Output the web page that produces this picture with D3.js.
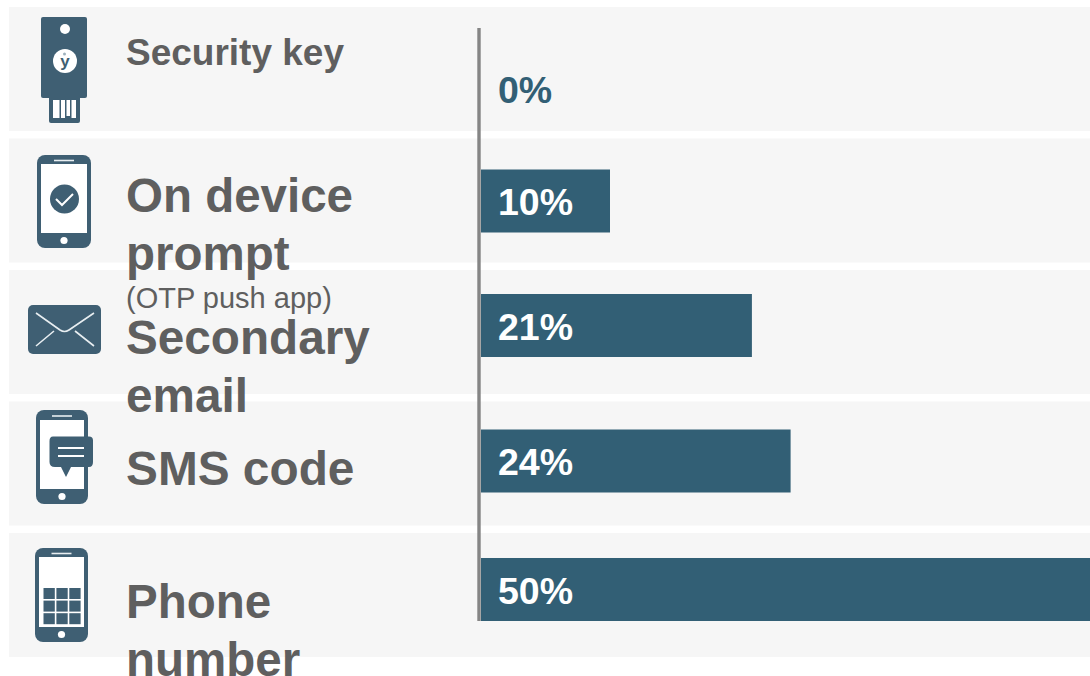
<!DOCTYPE html>
<html>
<head>
<meta charset="utf-8">
<title>Account recovery methods</title>
<script src="https://cdn.jsdelivr.net/npm/d3@7/dist/d3.min.js"></script>
<style>
  html, body { margin: 0; padding: 0; background: #fff; overflow: hidden; }
  svg { display: block; }
  text { font-family: "Liberation Sans", Arial, sans-serif; }
</style>
</head>
<body>
<svg id="chart" width="1090" height="676"></svg>
<script>
// Share of accounts per method
const categories = ["Security key", "On device prompt", "Secondary email", "SMS code", "Phone number"];
const values = [0, 10, 21, 24, 50];
const labelLines = [["Security key"], ["On device", "prompt"], ["Secondary", "email"], ["SMS code"], ["Phone", "number"]];

// Layout: where each bar sits inside its row, and first label baseline
const barOffsets = [50, 31, 24, 28, 25];
const labelBaselines = [65, 212, 354, 485, 618];
const labelSizes = [37, 47.5, 47.7, 47.8, 47.5];

const W = 1090, H = 676;
const BAND = "#f6f6f6", BAR = "#325f75", ICON = "#3f5f73", TEXT = "#5f5f5f", RULE = "#858585";

const svg = d3.select("#chart");

const y = d3.scaleBand().domain(categories).range([7, 657]).paddingInner(0.057);
// 50% runs past the right edge of the page
const x = d3.scaleLinear().domain([0, 50]).range([481, 1126]);
const barHeight = 63;

// Row backgrounds
svg.append("g").selectAll("rect").data(categories).join("rect")
  .attr("x", 9).attr("width", W - 9)
  .attr("y", d => y(d)).attr("height", y.bandwidth())
  .attr("fill", BAND);

// Bars
svg.append("g").selectAll("rect").data(categories).join("rect")
  .attr("x", x(0))
  .attr("y", (d, i) => y(d) + barOffsets[i])
  .attr("width", (d, i) => x(values[i]) - x(0))
  .attr("height", barHeight)
  .attr("fill", BAR);

// Baseline rule
svg.append("line")
  .attr("x1", 479).attr("x2", 479).attr("y1", 28).attr("y2", 621)
  .attr("stroke", RULE).attr("stroke-width", 3.4);

// Value labels
svg.append("g").selectAll("text").data(categories).join("text")
  .attr("x", 498)
  .attr("y", (d, i) => y(d) + barOffsets[i] + 46)
  .attr("font-size", 37.5).attr("font-weight", 700)
  .attr("fill", (d, i) => values[i] === 0 ? BAR : "#fff")
  .text((d, i) => values[i] + "%");

// Category labels
categories.forEach((c, i) => {
  const t = svg.append("text").attr("font-weight", 700).attr("font-size", labelSizes[i]).attr("fill", TEXT);
  labelLines[i].forEach((line, j) => {
    t.append("tspan").attr("x", 126).attr("y", labelBaselines[i] + j * 58).text(line);
  });
});
svg.append("text").attr("x", 126).attr("y", 308).attr("font-size", 29).attr("fill", TEXT)
  .text("(OTP push app)");

// Icons
const icons = svg.append("g");
function phone(x0, y0, w, h, screenTop, screenBottom) {
  const g = icons.append("g").attr("transform", `translate(${x0},${y0})`);
  g.append("rect").attr("width", w).attr("height", h).attr("rx", 8).attr("fill", ICON);
  g.append("rect").attr("x", 4).attr("y", screenTop).attr("width", w - 8)
    .attr("height", screenBottom - screenTop).attr("fill", "#fff");
  g.append("line").attr("x1", w / 2 - 10).attr("x2", w / 2 + 10).attr("y1", screenTop / 2 + 1).attr("y2", screenTop / 2 + 1)
    .attr("stroke", "#e8eef1").attr("stroke-width", 1.6);
  g.append("circle").attr("cx", w / 2).attr("cy", (screenBottom + h) / 2).attr("r", 3.6).attr("fill", "#fff");
  return g;
}

// Security key
const key = icons.append("g");
key.append("rect").attr("x", 49).attr("y", 92).attr("width", 31).attr("height", 31).attr("rx", 2).attr("fill", ICON);
key.append("rect").attr("x", 41).attr("y", 17).attr("width", 46).attr("height", 81).attr("rx", 2).attr("fill", ICON);
key.append("circle").attr("cx", 65).attr("cy", 29).attr("r", 5).attr("fill", "#fff");
key.append("circle").attr("cx", 65).attr("cy", 61).attr("r", 12).attr("fill", "#fff");
key.append("text").attr("x", 65).attr("y", 67).attr("text-anchor", "middle")
  .attr("font-size", 17).attr("font-weight", 700).attr("fill", ICON).text("y");
key.append("circle").attr("cx", 64.5).attr("cy", 54).attr("r", 1.5).attr("fill", "#9fb2bd");
[[53, 6.5], [61, 4], [66.5, 3.5], [71.5, 4.5]].forEach(([bx, bw], i) => {
  key.append("rect").attr("x", bx).attr("y", 100).attr("width", bw)
    .attr("height", i === 2 ? 16 : 18).attr("fill", "#fff");
});

// On device prompt
const prompt = phone(37, 155, 54, 93, 9, 78);
prompt.append("circle").attr("cx", 27.5).attr("cy", 44).attr("r", 14.5).attr("fill", ICON);
prompt.append("path").attr("d", "M19,44 L25,50 L36,39").attr("fill", "none").attr("stroke", "#fff").attr("stroke-width", 2);

// Secondary email
const mail = icons.append("g").attr("transform", "translate(28,305)");
mail.append("rect").attr("width", 73).attr("height", 49).attr("rx", 5).attr("fill", ICON);
mail.append("path")
  .attr("d", "M8,8 L32,25 Q36.5,28 41,25 L66,8 M8,41 L26,26 M66,41 L47,26")
  .attr("fill", "none").attr("stroke", "#e8eef1").attr("stroke-width", 1.6);

// SMS code
const sms = phone(36, 410, 52, 94, 10, 79);
sms.append("path")
  .attr("d", "M17,26.5 H53 Q57,26.5 57,30.5 V52 Q57,57 53,57 H35 L30,67 L25,57 H19 Q13.5,57 13.5,52 V31 Q13.5,26.5 17,26.5 Z")
  .attr("fill", ICON);
sms.append("path").attr("d", "M22,38 H48 M22,46 H48").attr("stroke", "#fff").attr("stroke-width", 2);

// Phone number keypad
const pad = phone(35, 548, 53, 94, 9, 79);
const cellW = 11.3, cellH = 11, gap = 1.6;
d3.range(9).forEach(i => {
  pad.append("rect")
    .attr("x", 8.5 + (i % 3) * (cellW + gap))
    .attr("y", 40 + Math.floor(i / 3) * (cellH + gap))
    .attr("width", cellW).attr("height", cellH).attr("fill", ICON);
});
</script>
</body>
</html>
